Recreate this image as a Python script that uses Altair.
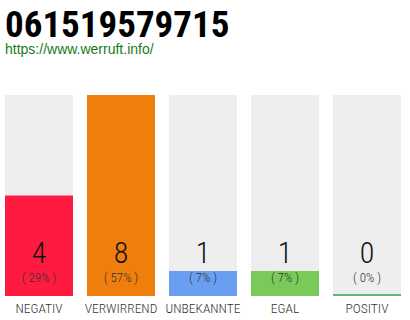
import altair as alt
import pandas as pd

# Vote categories, their counts and bar colours
categories = ["NEGATIV", "VERWIRREND", "UNBEKANNTE", "EGAL", "POSITIV"]
counts = [4, 8, 1, 1, 0]
colors = ["#ff1a40", "#f07e0c", "#6a9ef0", "#7aca5a", "#2ea84e"]

total = sum(counts)
df = pd.DataFrame({
    "category": categories,
    "count": counts,
    "color": colors,
    "full": [max(counts)] * len(counts),
})
df["pct"] = [f"( {round(c / total * 100)}% )" for c in counts]

LABEL_FONT = "Roboto Condensed Light"

x = alt.X("category:N", sort=categories, axis=None,
          scale=alt.Scale(paddingInner=14 / 82, paddingOuter=0))
yscale = alt.Scale(domain=[0, max(counts)], nice=False)

base = alt.Chart(df)

background = base.mark_bar(color="#eeeeee").encode(
    x=x, y=alt.Y("full:Q", scale=yscale, axis=None)
)

fill = base.mark_bar().encode(
    x=x,
    y=alt.Y("count:Q", scale=yscale, axis=None),
    color=alt.Color("color:N", scale=None),
)

# thin baseline strip for categories without votes
zero_line = base.transform_filter("datum.count == 0").mark_bar(height=1.5).encode(
    x=x,
    y=alt.value(200),
    color=alt.Color("color:N", scale=None),
)

count_text = base.mark_text(
    font=LABEL_FONT, fontSize=30, color="#111111", baseline="alphabetic"
).encode(x=x, y=alt.value(168), text="count:Q")

pct_text = base.mark_text(
    font=LABEL_FONT, fontSize=13, color="#333333", baseline="alphabetic"
).encode(x=x, y=alt.value(187), text="pct:N")

cat_text = base.mark_text(
    font=LABEL_FONT, fontSize=13.5, color="#333333", baseline="alphabetic"
).encode(x=x, y=alt.value(218), text="category:N")

chart = alt.layer(background, fill, zero_line, count_text, pct_text, cat_text).properties(
    width=396,
    height=201,
    autosize=alt.AutoSizeParams(type="none"),
    padding={"left": 5, "top": 95, "right": 9, "bottom": 24},
    title=alt.TitleParams(
        text="061519579715",
        subtitle="https://www.werruft.info/",
        anchor="start",
        font="Roboto Condensed",
        fontSize=37,
        fontWeight="bold",
        color="#000000",
        subtitleFont="Liberation Sans",
        subtitleFontSize=14,
        subtitleColor="#1a7a1a",
        subtitlePadding=-2,
        offset=37,
    ),
).configure_view(stroke=None)

chart.save("out.html", embed_options={"renderer": "svg", "actions": False})
